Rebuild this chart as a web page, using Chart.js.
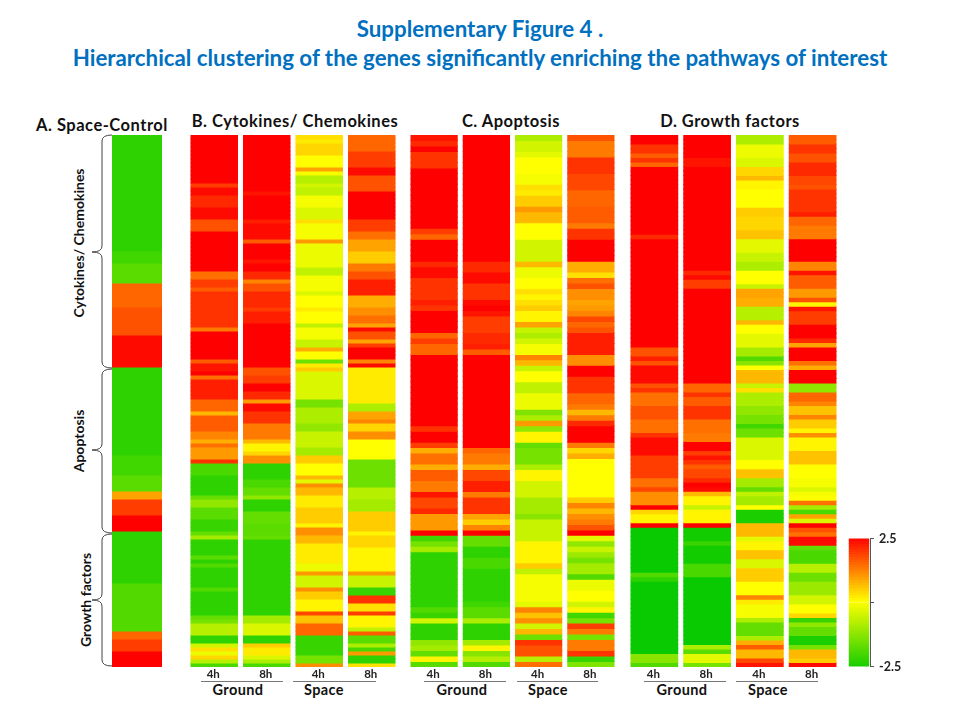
<!DOCTYPE html>
<html>
<head>
<meta charset="utf-8">
<title>Supplementary Figure 4</title>
<script src="https://cdn.jsdelivr.net/npm/chart.js@4"></script>
<style>
body { margin: 0; background: #fff; }
#page { position: relative; width: 960px; height: 720px; overflow: hidden; font-family: Lato, sans-serif; font-weight: bold; color: #111; }
#page canvas { position: absolute; }
.t { position: absolute; white-space: nowrap; transform: translate(-50%, -50%); }
.main { color: #0070c0; font-size: 22.3px; }
.head { font-size: 16.5px; letter-spacing: .5px; }
.side { font-size: 14px; transform: translate(-50%, -50%) rotate(-90deg); }
.group { font-size: 14.5px; letter-spacing: .4px; }
svg { position: absolute; left: 0; top: 0; }
</style>
</head>
<body>
<div id="page">
  <div class="t main" style="left:480px;top:28px">Supplementary Figure 4 .</div>
  <div class="t main" style="left:480px;top:57px">Hierarchical clustering of the genes significantly enriching the pathways of interest</div>
  <div class="t head" style="left:102px;top:125px">A. Space-Control</div>
  <div class="t head" style="left:295px;top:121px">B. Cytokines/ Chemokines</div>
  <div class="t head" style="left:511px;top:121px">C. Apoptosis</div>
  <div class="t head" style="left:730px;top:121px">D. Growth factors</div>
  <div class="t side" style="left:78px;top:243px">Cytokines/ Chemokines</div>
  <div class="t side" style="left:78px;top:441px">Apoptosis</div>
  <div class="t side" style="left:85px;top:600px">Growth factors</div>
  <div class="t group" style="left:238px;top:689px">Ground</div>
  <div class="t group" style="left:324px;top:689px">Space</div>
  <div class="t group" style="left:462px;top:689px">Ground</div>
  <div class="t group" style="left:548px;top:689px">Space</div>
  <div class="t group" style="left:682px;top:689px">Ground</div>
  <div class="t group" style="left:768px;top:689px">Space</div>
  <svg width="960" height="720" fill="none" stroke="#444" stroke-width="1">
    <path d="M112 135 Q102 135 102 141 V246 Q102 252 92 252 Q102 252 102 258 V362 Q102 368 112 368"/>
    <path d="M112 369 Q102 369 102 375 V444 Q102 450 92 450 Q102 450 102 456 V527 Q102 533 112 533"/>
    <path d="M112 534 Q102 534 102 540 V594 Q102 600 92 600 Q102 600 102 606 V660 Q102 666 112 666"/>
    <path stroke="#777" d="M201 681.5H283M293 681.5H376M424 681.5H506M517 681.5H598M644 681.5H726M736 681.5H818"/>
  </svg>
  <canvas id="panelA" width="50" height="532" style="left:112px;top:135px"></canvas>
  <canvas id="panelB" width="210" height="554" style="left:188px;top:135px"></canvas>
  <canvas id="panelC" width="209" height="554" style="left:408px;top:135px"></canvas>
  <canvas id="panelD" width="211" height="554" style="left:628px;top:135px"></canvas>
  <canvas id="scaleBar" width="62" height="153" style="left:848px;top:526px"></canvas>
</div>
<script>
const hourLabels = ['4h', '8h', '4h', '8h']
const scaleTicks = [2.5, 0, -2.5]

const spaceControl = [
  -2.3,-2.3,-2.3,-2.3,-2.3,-2.3,-2.3,-2.3,-2.3,-2.3,-2.3,-2.3,-2.3,-2.3,-2.3,-2.3,-2.3,-2.3,-2.3,-2.3,-2.3,-2.3,-2.3,-2.3,-2.3,-2.3,-2.3,-2.3,-2.3,
  -2.1,-2.1,-2.1,-1.8,-1.8,-1.8,-1.8,-1.8,
  1.5,1.5,1.5,1.5,1.5,1.5,1.7,1.7,1.7,1.7,1.7,1.7,1.7,
  2.4,2.4,2.4,2.4,2.4,2.4,2.4,2.4,
  -2.3,-2.3,-2.3,-2.3,-2.3,-2.3,-2.3,-2.3,-2.3,-2.3,-2.3,-2.3,-2.3,-2.3,-2.3,-2.3,-2.3,-2.3,-2.3,-2.3,-2.3,-2.3,
  -2.1,-2.1,-2.1,-2.1,-2.1,-1.8,-1.8,-1.8,-1.8,
  0.9,0.9,1.9,1.9,1.9,1.9,2.5,2.5,2.5,2.5,
  -2.3,-2.3,-2.3,-2.3,-2.3,-2.3,-2.3,-2.3,-2.3,-2.3,-2.3,-2.3,-2.3,
  -1.9,-1.9,-1.9,-1.9,-1.9,-1.9,-1.9,-1.9,-1.9,-1.9,-1.9,-1.9,
  1.5,1.5,1.9,1.9,1.9,2.5,2.5,2.5,2.5
]

const cytoGround4h = [
  2.5,2.5,2.5,2.5,2.5,2.5,2.5,2.5,2.5,2.5,2.5,2.5,1.9,2.4,2.4,2.1,2.1,2.1,2.4,2.4,2.4,1.7,1.7,1.7,
  2.5,2.5,2.5,2.5,2.5,2.5,2.5,2.5,2.5,2.5,1.4,1.4,1.9,1.9,1.6,2,2,2,2,
  2,2,2,2,2,1.3,2.5,2.5,2.5,2.5,2.5,2.5,2.5,1.6,2.3,2.3,2.5,1.4,2.2,2.2,2.2,2.2,2.2,1.5,1.5,1.5,0.7,
  1.6,1.6,1.6,1.6,1.2,1.2,0.8,1.4,1,1,1,2,
  -2,-2,-2,-2.3,-2.3,-2.3,-2.3,-2.3,-1.7,-1.2,-1.2,-1.8,-1.8,-1.8,-2.2,-2.2,-2.2,-1.7,-1,
  -2.3,-2.3,-2.3,-2.3,-1.8,-2.3,-1.9,-2.3,-2.3,-2.3,-2.3,-2.3,-1.9,-2.3,-2.3,-2.3,-2.3,-2.3,-2.3,
  -1.7,-1.5,-0.8,-0.8,-0.8,-2.3,-2.3,-0.5,0.3,-0.2,0.4,-0.8,-2
]
const cytoGround8h = [
  2.5,2.5,2.5,2.5,2.5,2.5,2.5,2.5,2.5,2.5,2.5,2.5,2.5,2.5,2.3,2.5,2.5,2.5,2.5,2.5,2.5,2.2,2.4,2.4,2.4,2.4,1.6,
  2.5,2.5,2.5,2.5,2.3,2.5,2.5,2.1,2.1,1.2,1.7,1.7,2.1,2.1,2.1,2.1,1.9,2.2,2.2,2.2,
  2.5,2.5,2.5,2.5,2.5,2.5,2.5,2.5,2.5,2.5,2.5,1.7,1.7,1.9,1.9,2.5,2.5,2.1,2.1,1,2.4,2.4,2,2,2,
  1.3,1.3,1.3,1.3,0.7,0.1,0.1,0.4,1.1,1.1,
  -2.3,-2.3,-2.3,-2.3,-2,-2,-1.7,-1.7,-1.2,-2.3,-2.3,-2.3,-1.7,-1.7,-1.7,-1.8,-1.8,-1.8,-1.7,
  -2.3,-2.3,-2.3,-2.3,-2.3,-2.3,-2.3,-2.3,-2.3,-2.3,-2.3,-2.3,-2.3,-2.3,-2.3,-2.3,-2.3,-2.3,-2.3,
  -1,-1,-0.4,-0.4,-0.4,-2.3,-2.3,0.5,0.2,0.2,-0.4,-0.9,-2
]
const cytoSpace4h = [
  0.3,0.2,0.4,0.4,0.4,0,0,0,0.9,-0.1,-0.8,-0.8,-0.5,-0.7,-0.7,-0.1,-0.1,-0.1,-0.4,-0.4,-0.4,0.3,
  -0.1,-0.1,-0.1,-0.1,1,-0.2,-0.2,-0.2,-0.2,-0.2,-0.2,-0.7,-0.7,-0.1,-0.1,-0.1,-0.1,-0.4,0,0,0,
  0.2,0,0,0,-0.7,-0.1,-0.1,-0.1,-0.6,-0.6,0.8,0,0,-1.6,0.2,0.5,-0.4,-0.4,-0.4,-0.4,-0.4,-0.4,-0.4,
  -1.5,-1.5,-0.9,-0.9,-0.9,-0.9,-1.2,-1.2,-0.6,-0.6,-0.6,-0.6,-1,-1,0.5,0.5,0,0,0,0.7,-0.3,
  1.1,0.7,0.7,0.2,0.2,0.2,0.5,0.5,0.5,0.5,0.1,1.1,1.1,0.7,0.7,0.2,0.2,0.2,0.2,0.2,-0.2,-0.2,1,
  -0.5,-0.5,-0.5,1.1,0.5,0.5,0.1,0.1,0.1,1.8,0.6,0.6,1.5,1.5,1.5,-2.2,-2.2,-2.2,-2.2,-2.2,-1.5,-1.5,1.1
]
const cytoSpace8h = [
  1.5,1.5,1.5,1.5,1.9,1.9,1.9,1.9,2.4,2.4,1.7,1.7,1.7,1.7,2.5,2.5,2.5,2.5,2.5,2.5,2.5,1.9,1.9,1.9,
  1.4,1.4,0.9,0.9,0.9,0.5,0.5,0.5,1.3,1.3,1.7,1.7,2.2,2.2,2.2,2.2,0.8,0.8,0.8,
  1.1,1.1,1.4,1.4,0.9,2.4,1.7,1.7,0.9,1.9,2.5,2.5,2.5,1.2,2.4,
  0.2,0.2,0.2,0.2,0.2,0.2,0.2,0.2,0.2,-0.9,-0.9,0.9,0.9,1.2,0.4,0.4,1.1,1.1,0,0,0,0,0,
  -1.6,-1.6,-1.6,-1.6,-1.6,-1.6,-1.6,-0.8,-0.8,-0.8,-1,-1,-1,0.5,0.5,0.5,0.5,0.5,0.1,0.4,0.4,0.4,
  0.1,0.1,0.1,0.1,0.1,0.1,1,-0.6,-0.6,-0.6,-2.2,-2.2,2,2,0.3,0.3,1.9,0.1,0.1,0.1,-0.7,1.6,
  -1.8,-1.8,-0.9,-2,1,-2.3,-2.3,0.3
]

const apoGround4h = [
  2.3,2.1,2.5,2,2,2,2.5,2.5,2.5,2.5,2.5,2.5,2.5,2.5,2.5,2.5,2.5,1.9,1.5,2.5,2.5,2.5,2.5,2.1,2.4,2.4,2,2,2,2,2.2,
  2,2.5,2.5,2.5,2.5,1.5,1.9,1.5,1.5,2.5,2.5,2.5,2.5,2.5,2.5,2.5,2.5,2.5,2.5,2.5,2.5,2.5,2,2.5,2.5,1.9,0.8,1.4,1.4,0.8,1.6,1.6,
  1.3,1.3,2.3,1.8,1.8,2.1,1,1,1,2.5,-2.1,-1.5,-1,-2.3,-2.3,-2.3,-2.3,-2.3,-2.3,-2.3,-2.3,-2.3,-2.3,-1.9,-2.2,-0.5,
  -2.3,-2.3,-2.3,-1.2,-1,-1.7,0.1,-1.8
]
const apoGround8h = [
  2.5,2.5,2.5,2.5,2.5,2.5,2.5,2.5,2.5,2.5,2.5,2.5,2.5,2.5,2.5,2.5,2.5,2.5,2.5,2.5,2.5,2.5,2.5,2.1,2.1,2.4,2.4,2,2,2,2.4,
  2.5,2.3,1.9,1.9,1.9,2.1,2.1,2.2,1.6,2.5,2.5,2.5,2.5,2.5,2.5,2.5,2.5,2.5,2.5,2.5,2.5,2.5,2.5,2.5,2.5,2.5,1.5,1.3,1.3,0.8,1.8,1.8,
  2.2,2.2,1.3,2,2,2,0.9,0.5,1.2,2.5,-1.7,-1.7,-2.3,-2.3,-2,-2,-2.3,-2.3,-2.3,-2.3,-2.3,-2.3,-2.1,-1.8,-1.8,-0.9,
  -2.3,-2.3,-2.3,-1,0.1,-1.3,-0.8,-1.9
]
const apoSpace4h = [
  -0.9,-0.5,-0.5,-0.3,0,0,0,-0.1,-0.1,0.3,0.2,0.5,0.5,1,0.7,0.7,0,0,0,-0.5,-0.5,-0.5,-0.5,0.7,-0.2,-0.2,0,0,0.3,0.1,0.3,
  0.5,0.1,0.1,0.9,-0.6,-0.9,-0.5,-0.1,-0.1,1.2,0.7,-0.6,0,0,-0.7,-0.7,-0.2,-0.2,-0.2,-1.4,-0.9,1,-1.2,0.1,0.1,-1.7,-1.5,-1.5,-1.5,-0.9,0.1,0.1,
  -0.5,-0.5,-0.5,-1,-1,-1,-1.3,-0.6,-0.6,-0.6,-0.6,0.1,0.1,0.1,0.1,0.5,-0.7,-0.1,-0.1,-0.1,-0.1,-0.1,-0.3,1.2,0.6,1.1,
  -0.5,0.7,-1.6,2,1.7,1.7,-0.8,1.4
]
const apoSpace8h = [
  1.7,1.3,1.3,1.3,2,2,2,1.8,1.8,1.8,1.5,1.5,1.5,1.6,1.6,1.6,1.3,2,2,2.5,2.5,2.5,2.5,0.8,0.8,0.3,1.4,1.7,1.1,1.1,0.9,
  1,1.2,1.8,1.5,1.7,2.2,2.2,2.2,2.2,1.1,1.1,2.5,2.5,2,2,2,1.5,1.5,1.3,0.7,1.3,2.1,2.5,2.5,2.5,1.3,0.4,0.8,0,0,0,0,
  0,0,0,0.5,1.2,0.7,1.1,1.3,1.7,2.5,-0.3,-1.2,-0.6,-1.1,-1.5,-1,-1,-1.9,-0.2,-0.2,0,0,-0.5,0.1,-2.1,-1.5,
  1.9,1.3,-1.5,1.3,1.3,2,-2.2,-1.4
]

const growGround4h = [
  2.5,2.5,2,2,1.6,2,1.5,2.5,2.5,2.5,2.5,2.5,2.5,2.5,2.5,2.5,2.5,2.5,2.5,2.5,2.5,2.5,2.1,
  2.5,2.5,2.5,2.5,2.5,2.5,2.5,2.5,2.5,2.5,2.5,2.5,2.5,2.5,2.5,
  2.5,2.5,2.5,2.5,2.5,2.5,2.5,2.5,2.5,1.7,1.7,2.2,1.7,2.4,2.4,2.4,2.4,1.7,2,1.4,1.4,1.4,1.7,1.7,1.7,1.4,1.4,1.4,2,
  2.4,2.4,2.4,2.4,1.9,1.9,1.9,1.9,1.9,1.4,1.4,1.8,1.1,1.1,1.1,2.5,0.4,0.1,0.1,2.5,
  -2.7,-2.7,-2.7,-2.7,-2.7,-2.7,-2.7,-2.7,-2.7,-2.7,-1.9,-2.3,
  -2.7,-2.7,-2.7,-2.7,-2.7,-2.7,-2.7,-2.7,-2.7,-2.7,-2.7,-2.7,-2.7,-2.7,-2.7,-2.7,-1.3,-1.3,-1.9
]
const growGround8h = [
  2.5,2.5,2.5,2.5,2.5,2.3,2.3,2.5,2.5,2.5,2.5,2.5,2.5,2.5,2.5,2.5,2.5,2.5,2.5,2.5,2.5,2.5,2.5,2.5,2.5,2.5,2.5,2.5,2.5,2.5,
  2.1,2.4,1.9,1.9,2.5,2.5,2.5,2.5,
  2.5,2.5,2.5,2.5,2.5,2.5,2.5,2.5,2.5,2.5,2.5,2.5,2.5,2.5,2.5,2.5,2.5,1.5,1.5,2,1.6,1.6,2,2,2,1.4,1.4,1.4,1.3,1.3,
  2.5,2.5,1.9,2.3,2,1.6,1.8,1.8,2.1,2.5,2.4,0.7,0.1,0.1,-0.6,0.1,0.1,0.1,2.5,
  -2.6,-2.6,-2.6,-2.2,-2.6,-2.6,-2.6,-2.6,-2,-2,-2,
  -2.7,-2.7,-2.7,-2.7,-2.7,-2.7,-2.7,-2.7,-2.7,-2.7,-2.7,-2.7,-2.7,-2.7,-2.7,-0.9,-1.8,-0.3,-0.3,-1.5
]
const growSpace4h = [
  -0.9,-0.9,-0.2,-0.2,-0.2,-0.4,-0.4,0.4,0.4,0.7,0.1,0.1,0,0,0,0,0.5,0.5,0.4,0.4,0.4,0.6,0.6,-0.3,-0.3,-0.3,-0.6,-0.6,-0.9,-0.9,
  0,0,0,-0.6,0.9,0.9,0.8,0.8,
  -0.8,-0.8,-0.8,0.7,0,0,-0.3,-0.3,-0.3,-1,-1,-1.9,-1.3,0,0.7,0.7,0.7,-0.6,0.3,-0.9,-0.9,-0.9,-1.2,-1.2,-1.5,-1.5,-2.1,-1.6,-1.6,
  -0.4,-0.4,-0.4,-0.4,-0.4,0,0,0.6,0.6,-1,-1,
  -1.7,-0.7,-1,-1,0,-2.5,-2.5,-2.5,0.7,0.7,0.7,-0.3,0.1,0.1,0.6,0.6,-0.4,-0.4,0.5,0.5,0.5,0,0,0,1.2,0.2,-0.1,-0.1,-0.1,
  -0.9,-1.7,-1.7,-1.7,-0.9,0.8,1.6,0.7,0.7,1.8,2.3
]
const growSpace8h = [
  1.6,1.6,2,2,1.7,1.7,2.1,2.1,2.1,1.8,1.8,1.7,2,2,2,2,2,2.2,1.5,1.5,1.3,1.3,1.3,2.5,2.5,2.5,2.5,2.5,1.2,1.2,
  2.3,1.6,1.6,1.6,1,1,1.7,0.1,
  2.3,1.9,1.9,1.9,2.5,2.5,2.5,2.1,0.9,2.5,2.5,2.5,1.4,0.8,2.5,2.5,2.5,-1.2,-1.2,1.5,1.5,1.2,0.6,0.6,1.2,0.5,0.5,0.1,1.1,
  0.1,0.1,0.1,0.6,0.6,0.6,0,0,0,-0.1,-0.1,
  -0.4,-0.1,0,1.4,-1,-2,0.9,-0.4,2.5,1.7,1.4,2.4,2.4,-1.7,-2,-2,-2,-0.8,-0.8,-1.6,-1.6,-1.1,-1.1,-1.1,-0.5,-0.5,0,0,0.4,
  -2.2,-1.2,-1.7,-1.7,-2.5,-2.5,-1.5,0.7,0.7,0.5,2.4
]

// the colour bar, top to bottom, one step per stripe
const scaleSteps = [
  2.4,2.3,2.2,2.1,2,1.9,1.8,1.7,1.6,1.5,1.4,1.3,1.2,1.1,1,0.9,0.8,0.7,0.6,0.5,0.4,0.3,0.2,0.1,0,
  -0.1,-0.2,-0.3,-0.4,-0.5,-0.6,-0.7,-0.8,-0.9,-1,-1.1,-1.2,-1.3,-1.4,-1.5,-1.6,-1.7,-1.8,-1.9,-2,-2.1,-2.2,-2.3,-2.4,-2.5
]

function cellColor(v) {
  if (v >= 0) {
    return 'rgb(255,' + Math.round(255 * (1 - Math.min(v, 2.5) / 2.5)) + ',0)'
  }
  const t = Math.min(-v / 2.8, 1)
  return 'rgb(' + Math.round(255 * (1 - t)) + ',' + Math.round(255 - 55 * t) + ',0)'
}

function heatmap(id, labels, columns, barShare, showLabels) {
  const rowCount = Math.max(...columns.map(c => c.length))
  const datasets = []
  for (let i = 0; i < rowCount; i++) {
    datasets.push({
      data: columns.map(() => 1),
      backgroundColor: columns.map(c => cellColor(c[i])),
      borderWidth: 0,
      inflateAmount: 0.5,
      categoryPercentage: 1,
      barPercentage: barShare
    })
  }
  return new Chart(document.getElementById(id), {
    type: 'bar',
    data: { labels: labels, datasets: datasets },
    options: {
      responsive: false,
      animation: false,
      layout: { padding: 0 },
      plugins: { legend: { display: false }, tooltip: { enabled: false } },
      scales: {
        x: {
          stacked: true,
          display: showLabels,
          grid: { display: false, drawTicks: false },
          border: { display: false },
          ticks: { color: '#222', font: { family: 'Lato', size: 11.5, weight: 'bold' }, padding: 0, maxRotation: 0, labelOffset: -1 },
          afterFit: s => { if (showLabels) s.height = 22 }
        },
        y: { stacked: true, display: false, reverse: true, min: 0, max: rowCount }
      }
    }
  })
}

heatmap('panelA', ['Space-Control'], [spaceControl], 0.98, false)
heatmap('panelB', hourLabels, [cytoGround4h, cytoGround8h, cytoSpace4h, cytoSpace8h], 0.885, true)
heatmap('panelC', hourLabels, [apoGround4h, apoGround8h, apoSpace4h, apoSpace8h], 0.885, true)
heatmap('panelD', hourLabels, [growGround4h, growGround8h, growSpace4h, growSpace8h], 0.885, true)

new Chart(document.getElementById('scaleBar'), {
  type: 'bar',
  data: {
    labels: [''],
    datasets: scaleSteps.map(v => ({
      data: [[v, v + 0.1]],
      backgroundColor: cellColor(v),
      borderWidth: 0,
      inflateAmount: 0.5,
      grouped: false,
      categoryPercentage: 1,
      barPercentage: 0.88
    }))
  },
  options: {
    responsive: false,
    animation: false,
    layout: { autoPadding: false, padding: { top: 10, bottom: 10 } },
    plugins: { legend: { display: false }, tooltip: { enabled: false } },
    scales: {
      x: { display: false },
      y: {
        position: 'right',
        min: -2.5,
        max: 2.5,
        grid: { drawOnChartArea: false, color: '#555', tickLength: 4 },
        border: { color: '#555' },
        afterBuildTicks: s => { s.ticks = scaleTicks.map(v => ({ value: v })) },
        afterFit: s => { s.width = 40 },
        ticks: {
          color: '#222',
          font: { family: 'Lato', size: 12.5, weight: 'bold' },
          padding: 5,
          callback: v => (v === 0 ? '' : v)
        }
      }
    }
  }
})
</script>
</body>
</html>
